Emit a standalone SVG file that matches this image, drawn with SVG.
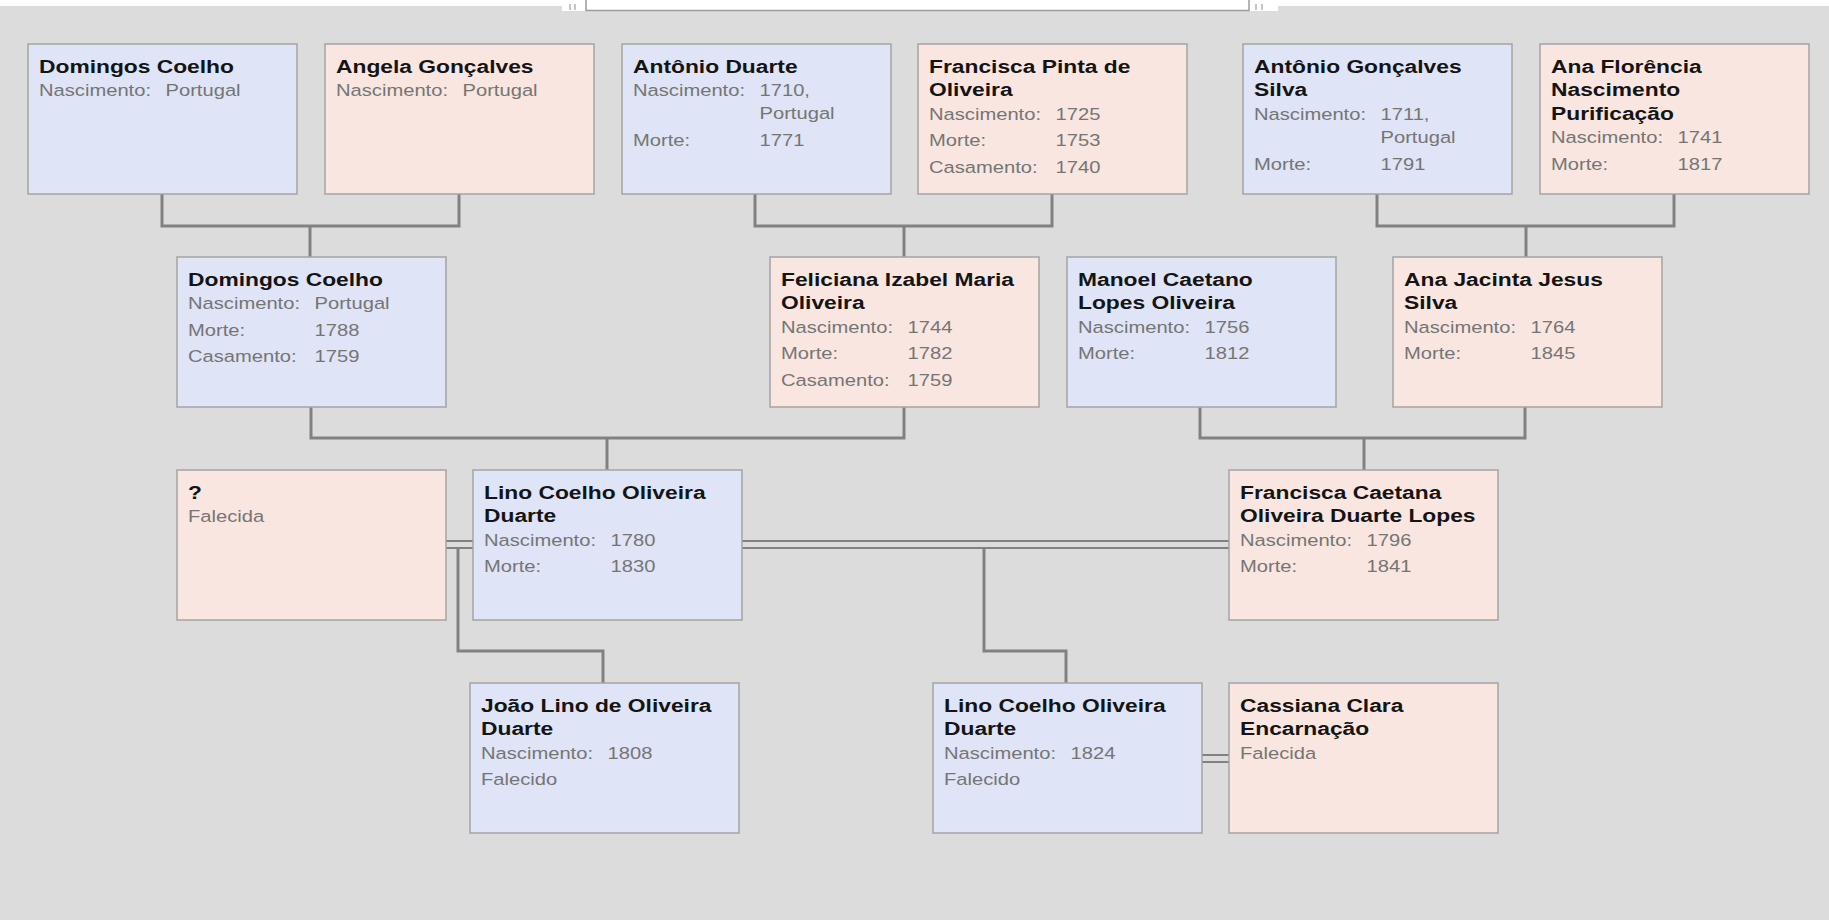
<svg xmlns="http://www.w3.org/2000/svg" width="1829" height="920" viewBox="0 0 1829 920">
<style>
.bg{fill:#dcdcdc}
.m{fill:#dfe4f6;stroke:#a4a4a4;stroke-width:1.5}
.f{fill:#f9e6e0;stroke:#a4a4a4;stroke-width:1.5}
.h{font-family:"Liberation Sans",Arial,sans-serif;font-weight:bold;font-size:19px;fill:#141414}
.d{font-family:"Liberation Sans",Arial,sans-serif;font-size:16.8px;fill:#757575}
.c{fill:none;stroke:#818181;stroke-width:3}
.cc{fill:none;stroke:#818181;stroke-width:2.2}
</style>
<rect class="bg" x="0" y="0" width="1829" height="920"/>
<rect x="0" y="0" width="1829" height="6" fill="#ffffff"/>
<rect x="562" y="0" width="716" height="11" fill="#ffffff"/>
<path d="M586,0 V10.5 H1249 V0" fill="none" stroke="#9c9c9c" stroke-width="1.5"/>
<path d="M570,4 V10 M575,4 V10 M1256,4 V10 M1262,4 V10" fill="none" stroke="#b4b4b4" stroke-width="1.5"/>

<g id="connectors">
<path class="c" d="M162,194 V226 H459 V194 M310,226 V257"/>
<path class="c" d="M755,194 V226 H1052 V194 M904,226 V257"/>
<path class="c" d="M1377,194 V226 H1674 V194 M1526,226 V257"/>
<path class="c" d="M311,407 V438 H904 V407 M607,438 V470"/>
<path class="c" d="M1200,407 V438 H1525 V407 M1364,438 V470"/>
<path class="cc" d="M445,541 H473 M445,548 H473"/>
<path class="cc" d="M742,541 H1229 M742,548 H1229"/>
<path class="c" d="M458,548 V651 H603 V683"/>
<path class="c" d="M984,548 V651 H1066 V683"/>
<path class="cc" d="M1202,755 H1229 M1202,762 H1229"/>
</g>

<g id="n1" transform="translate(28 44)"><rect class="m" width="269" height="150"/><g transform="scale(1.2 1)">
<text class="h" x="9.2" y="29">Domingos Coelho</text>
<text class="d" x="9.2" y="52.5">Nascimento:</text><text class="d" x="114.6" y="52.5">Portugal</text>
</g></g>

<g id="n2" transform="translate(325 44)"><rect class="f" width="269" height="150"/><g transform="scale(1.2 1)">
<text class="h" x="9.2" y="29">Angela Gonçalves</text>
<text class="d" x="9.2" y="52.5">Nascimento:</text><text class="d" x="114.6" y="52.5">Portugal</text>
</g></g>

<g id="n3" transform="translate(622 44)"><rect class="m" width="269" height="150"/><g transform="scale(1.2 1)">
<text class="h" x="9.2" y="29">Antônio Duarte</text>
<text class="d" x="9.2" y="52.5">Nascimento:</text><text class="d" x="114.6" y="52.5">1710,</text>
<text class="d" x="114.6" y="75.5">Portugal</text>
<text class="d" x="9.2" y="102.5">Morte:</text><text class="d" x="114.6" y="102.5">1771</text>
</g></g>

<g id="n4" transform="translate(918 44)"><rect class="f" width="269" height="150"/><g transform="scale(1.2 1)">
<text class="h" x="9.2" y="29">Francisca Pinta de</text>
<text class="h" x="9.2" y="52.5">Oliveira</text>
<text class="d" x="9.2" y="76">Nascimento:</text><text class="d" x="114.6" y="76">1725</text>
<text class="d" x="9.2" y="102.5">Morte:</text><text class="d" x="114.6" y="102.5">1753</text>
<text class="d" x="9.2" y="129">Casamento:</text><text class="d" x="114.6" y="129">1740</text>
</g></g>

<g id="n5" transform="translate(1243 44)"><rect class="m" width="269" height="150"/><g transform="scale(1.2 1)">
<text class="h" x="9.2" y="29">Antônio Gonçalves</text>
<text class="h" x="9.2" y="52.5">Silva</text>
<text class="d" x="9.2" y="76">Nascimento:</text><text class="d" x="114.6" y="76">1711,</text>
<text class="d" x="114.6" y="99.5">Portugal</text>
<text class="d" x="9.2" y="126">Morte:</text><text class="d" x="114.6" y="126">1791</text>
</g></g>

<g id="n6" transform="translate(1540 44)"><rect class="f" width="269" height="150"/><g transform="scale(1.2 1)">
<text class="h" x="9.2" y="29">Ana Florência</text>
<text class="h" x="9.2" y="52.5">Nascimento</text>
<text class="h" x="9.2" y="76">Purificação</text>
<text class="d" x="9.2" y="99.5">Nascimento:</text><text class="d" x="114.6" y="99.5">1741</text>
<text class="d" x="9.2" y="126">Morte:</text><text class="d" x="114.6" y="126">1817</text>
</g></g>

<g id="n7" transform="translate(177 257)"><rect class="m" width="269" height="150"/><g transform="scale(1.2 1)">
<text class="h" x="9.2" y="29">Domingos Coelho</text>
<text class="d" x="9.2" y="52.5">Nascimento:</text><text class="d" x="114.6" y="52.5">Portugal</text>
<text class="d" x="9.2" y="79">Morte:</text><text class="d" x="114.6" y="79">1788</text>
<text class="d" x="9.2" y="105.5">Casamento:</text><text class="d" x="114.6" y="105.5">1759</text>
</g></g>

<g id="n8" transform="translate(770 257)"><rect class="f" width="269" height="150"/><g transform="scale(1.2 1)">
<text class="h" x="9.2" y="29">Feliciana Izabel Maria</text>
<text class="h" x="9.2" y="52.5">Oliveira</text>
<text class="d" x="9.2" y="76">Nascimento:</text><text class="d" x="114.6" y="76">1744</text>
<text class="d" x="9.2" y="102.5">Morte:</text><text class="d" x="114.6" y="102.5">1782</text>
<text class="d" x="9.2" y="129">Casamento:</text><text class="d" x="114.6" y="129">1759</text>
</g></g>

<g id="n9" transform="translate(1067 257)"><rect class="m" width="269" height="150"/><g transform="scale(1.2 1)">
<text class="h" x="9.2" y="29">Manoel Caetano</text>
<text class="h" x="9.2" y="52.5">Lopes Oliveira</text>
<text class="d" x="9.2" y="76">Nascimento:</text><text class="d" x="114.6" y="76">1756</text>
<text class="d" x="9.2" y="102.5">Morte:</text><text class="d" x="114.6" y="102.5">1812</text>
</g></g>

<g id="n10" transform="translate(1393 257)"><rect class="f" width="269" height="150"/><g transform="scale(1.2 1)">
<text class="h" x="9.2" y="29">Ana Jacinta Jesus</text>
<text class="h" x="9.2" y="52.5">Silva</text>
<text class="d" x="9.2" y="76">Nascimento:</text><text class="d" x="114.6" y="76">1764</text>
<text class="d" x="9.2" y="102.5">Morte:</text><text class="d" x="114.6" y="102.5">1845</text>
</g></g>

<g id="n11" transform="translate(177 470)"><rect class="f" width="269" height="150"/><g transform="scale(1.2 1)">
<text class="h" x="9.2" y="29">?</text>
<text class="d" x="9.2" y="52.5">Falecida</text>
</g></g>

<g id="n12" transform="translate(473 470)"><rect class="m" width="269" height="150"/><g transform="scale(1.2 1)">
<text class="h" x="9.2" y="29">Lino Coelho Oliveira</text>
<text class="h" x="9.2" y="52.5">Duarte</text>
<text class="d" x="9.2" y="76">Nascimento:</text><text class="d" x="114.6" y="76">1780</text>
<text class="d" x="9.2" y="102.5">Morte:</text><text class="d" x="114.6" y="102.5">1830</text>
</g></g>

<g id="n13" transform="translate(1229 470)"><rect class="f" width="269" height="150"/><g transform="scale(1.2 1)">
<text class="h" x="9.2" y="29">Francisca Caetana</text>
<text class="h" x="9.2" y="52.5">Oliveira Duarte Lopes</text>
<text class="d" x="9.2" y="76">Nascimento:</text><text class="d" x="114.6" y="76">1796</text>
<text class="d" x="9.2" y="102.5">Morte:</text><text class="d" x="114.6" y="102.5">1841</text>
</g></g>

<g id="n14" transform="translate(470 683)"><rect class="m" width="269" height="150"/><g transform="scale(1.2 1)">
<text class="h" x="9.2" y="29">João Lino de Oliveira</text>
<text class="h" x="9.2" y="52.5">Duarte</text>
<text class="d" x="9.2" y="76">Nascimento:</text><text class="d" x="114.6" y="76">1808</text>
<text class="d" x="9.2" y="102.5">Falecido</text>
</g></g>

<g id="n15" transform="translate(933 683)"><rect class="m" width="269" height="150"/><g transform="scale(1.2 1)">
<text class="h" x="9.2" y="29">Lino Coelho Oliveira</text>
<text class="h" x="9.2" y="52.5">Duarte</text>
<text class="d" x="9.2" y="76">Nascimento:</text><text class="d" x="114.6" y="76">1824</text>
<text class="d" x="9.2" y="102.5">Falecido</text>
</g></g>

<g id="n16" transform="translate(1229 683)"><rect class="f" width="269" height="150"/><g transform="scale(1.2 1)">
<text class="h" x="9.2" y="29">Cassiana Clara</text>
<text class="h" x="9.2" y="52.5">Encarnação</text>
<text class="d" x="9.2" y="76">Falecida</text>
</g></g>
</svg>
